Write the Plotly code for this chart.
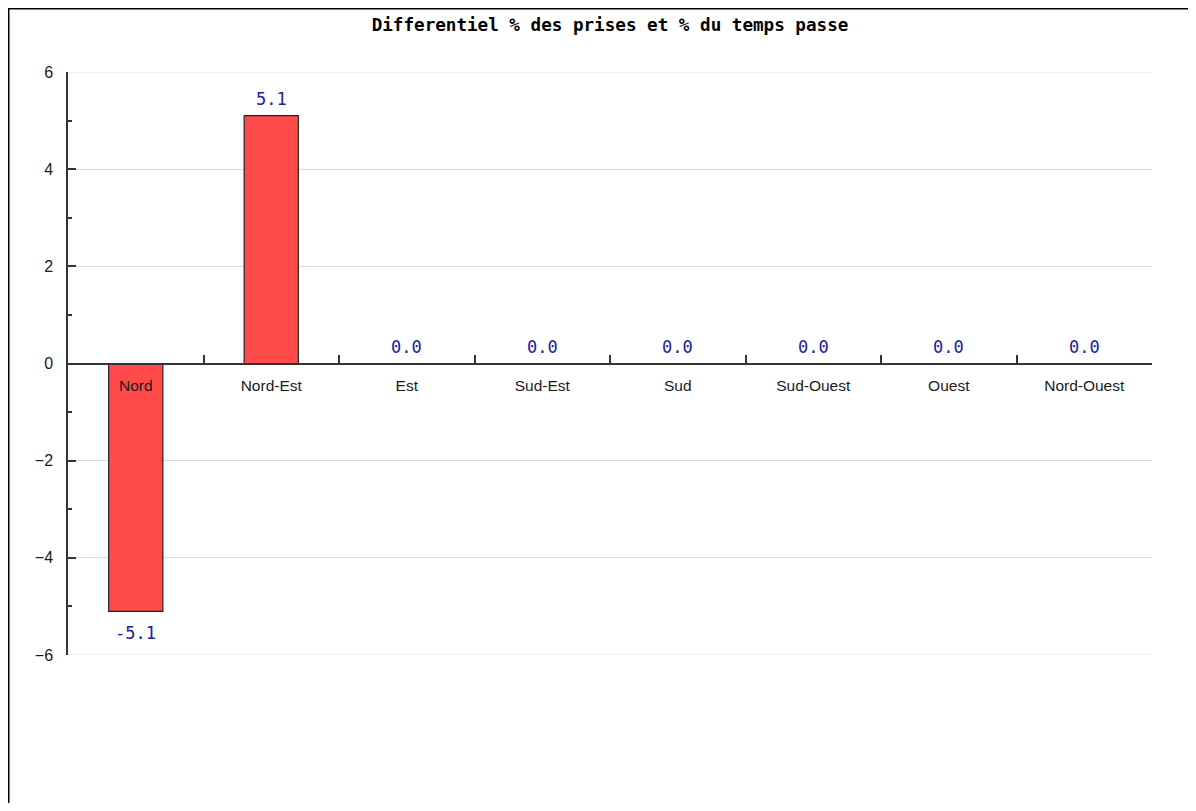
import plotly.graph_objects as go

categories = ["Nord", "Nord-Est", "Est", "Sud-Est", "Sud", "Sud-Ouest", "Ouest", "Nord-Ouest"]
values = [-5.1, 5.1, 0.0, 0.0, 0.0, 0.0, 0.0, 0.0]
y_ticks = [-6, -4, -2, 0, 2, 4, 6]
title_text = "Differentiel % des prises et % du temps passe"

# page body adds an 8px margin, so figure coordinates = screen - 8
W, H = 1188, 795
L, T = 60, 64
R = W - 1144
B = H - 647
pw, ph = W - L - R, H - T - B

fig = go.Figure()
fig.add_trace(go.Bar(
    x=categories, y=values, width=0.4,
    marker=dict(color="#ff4a4a", line=dict(color="#222222", width=1.2)),
    hoverinfo="skip", showlegend=False,
))

annotations = []
for c, v in zip(categories, values):
    annotations.append(dict(
        x=c, y=v, xref="x", yref="y", text=f"{v:.1f}",
        showarrow=False, yanchor="bottom" if v >= 0 else "top",
        yshift=5 if v >= 0 else -10,
        font=dict(family="DejaVu Sans Mono", size=17, color="#2020a0"),
    ))

grid_color = "#dcdcdc"
shapes = [
    dict(type="line", xref="paper", yref="y", x0=0, x1=1, y0=yt, y1=yt,
         line=dict(color=grid_color, width=1.2), layer="below")
    for yt in (y_ticks[0], y_ticks[-1])
]
shapes += [
    dict(type="line", xref="paper", yref="paper",
         x0=(0.5 - L) / pw, x1=(0.5 - L) / pw, y0=1 + (T - 0) / ph, y1=-(B + 20) / ph,
         line=dict(color="black", width=2)),
    dict(type="line", xref="paper", yref="paper",
         x0=(0 - L) / pw, x1=(W + 20 - L) / pw, y0=1 + (T - 0.5) / ph, y1=1 + (T - 0.5) / ph,
         line=dict(color="black", width=2)),
]

fig.update_layout(
    width=W, height=H,
    margin=dict(l=L, r=R, t=T, b=B),
    paper_bgcolor="white", plot_bgcolor="white",
    title=dict(text="<b>" + title_text + "</b>", x=0.5, xref="paper", xanchor="center",
               y=1 - 17 / H, yref="container", yanchor="middle",
               font=dict(family="DejaVu Sans Mono", size=17.6, color="black")),
    annotations=annotations,
    xaxis=dict(
        type="category", range=[-0.5, 7.5], anchor="free", position=0.5,
        showline=True, linecolor="#333333", linewidth=1.5,
        ticks="inside", tickson="boundaries", ticklen=8, tickcolor="#333333", tickwidth=1.5,
        showgrid=False, zeroline=False, ticklabelstandoff=8,
        tickfont=dict(family="Liberation Sans", size=15.5, color="#1a1a1a"),
        layer="above traces",
    ),
    yaxis=dict(
        range=[-6, 6], tickvals=y_ticks, showline=True, linecolor="#333333", linewidth=1.5,
        ticks="inside", ticklen=8, tickcolor="#333333", tickwidth=1.5,
        minor=dict(dtick=1, ticks="inside", ticklen=4, tickcolor="#333333", tickwidth=1.5, showgrid=False),
        showgrid=True, gridcolor=grid_color, gridwidth=1.2, zeroline=False,
        ticklabelstandoff=10,
        tickfont=dict(family="Liberation Sans", size=16, color="#1a1a1a"),
    ),
    shapes=shapes,
)

fig.write_html("out.html")
